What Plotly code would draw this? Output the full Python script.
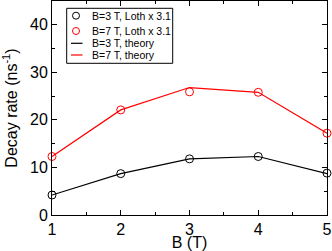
import plotly.graph_objects as go

B = [1, 2, 3, 4, 5]
exp_3T = [4.2, 8.7, 11.8, 12.3, 8.8]
exp_7T = [12.3, 22.1, 25.9, 25.8, 17.2]
theory_3T = [4.2, 8.7, 11.8, 12.3, 8.7]
theory_7T = [12.3, 22.1, 26.8, 25.8, 17.2]

legend_labels = ["B=3 T, Loth x 3.1", "B=7 T, Loth x 3.1", "B=3 T, theory", "B=7 T, theory"]
legend_colors = ["black", "red", "black", "red"]
legend_kinds = ["marker", "marker", "line", "line"]

FONT = "Liberation Sans, Arial, sans-serif"

fig = go.Figure()
fig.add_trace(go.Scatter(x=B, y=theory_3T, mode="lines", line=dict(color="black", width=1.2), showlegend=False))
fig.add_trace(go.Scatter(x=B, y=theory_7T, mode="lines", line=dict(color="red", width=1.2), showlegend=False))
fig.add_trace(go.Scatter(x=B, y=exp_3T, mode="markers", showlegend=False, cliponaxis=False,
                         marker=dict(symbol="circle-open", size=8, color="black", line=dict(width=1))))
fig.add_trace(go.Scatter(x=B, y=exp_7T, mode="markers", showlegend=False, cliponaxis=False,
                         marker=dict(symbol="circle-open", size=8, color="red", line=dict(width=1))))

# manual legend (pixel layout converted to paper coords)
L, R, T, BOT = 52, 327, 1, 215
def px(x):
    return (x - L) / (R - L)
def py(y):
    return (BOT - y) / (BOT - T)

shapes = [dict(type="rect", xref="paper", yref="paper", x0=px(66.7), x1=px(172.7), y0=py(63.3), y1=py(8.3),
               line=dict(color="black", width=1), fillcolor="white", layer="above")]
annotations = []
rows = [15.7, 31, 43.3, 55]
for lab, col, kind, ry in zip(legend_labels, legend_colors, legend_kinds, rows):
    if kind == "marker":
        shapes.append(dict(type="circle", xref="paper", yref="paper",
                           x0=px(72.5), x1=px(79.5), y0=py(ry + 3.5), y1=py(ry - 3.5),
                           line=dict(color=col, width=1), layer="above"))
    else:
        shapes.append(dict(type="line", xref="paper", yref="paper",
                           x0=px(71), x1=px(82.5), y0=py(ry), y1=py(ry),
                           line=dict(color=col, width=1.2), layer="above"))
    annotations.append(dict(text=lab, xref="paper", yref="paper", x=px(89.5), y=py(ry),
                            xanchor="left", yanchor="middle", showarrow=False,
                            font=dict(size=10.5, color="black", family=FONT)))

fig.update_layout(
    width=332, height=251,
    margin=dict(l=52, r=5, t=1, b=36, autoexpand=False),
    paper_bgcolor="white", plot_bgcolor="white",
    font=dict(family=FONT, color="black", size=16),
    shapes=shapes, annotations=annotations,
    showlegend=False,
)
fig.update_xaxes(range=[1, 5], tickvals=[1, 2, 3, 4, 5], ticks="inside", ticklen=5, tickcolor="black",
                 showline=True, linecolor="black", linewidth=1, mirror="ticks", showgrid=False, zeroline=False,
                 automargin=False,
                 minor=dict(dtick=0.5, ticks="inside", ticklen=3, tickcolor="black", showgrid=False),
                 title=dict(text="B (T)", font=dict(size=16), standoff=0),
                 tickfont=dict(size=16))
fig.update_yaxes(range=[0, 45], tickvals=[0, 10, 20, 30, 40], ticks="inside", ticklen=5, tickcolor="black",
                 showline=True, linecolor="black", linewidth=1, mirror="ticks", showgrid=False, zeroline=False,
                 automargin=False,
                 minor=dict(dtick=5, ticks="inside", ticklen=3, tickcolor="black", showgrid=False),
                 title=dict(text="Decay rate (ns<sup>-1</sup>)", font=dict(size=16), standoff=8),
                 tickfont=dict(size=16))

fig.write_html("out.html", config={"displayModeBar": False, "staticPlot": True},
               post_script="document.body.style.margin='0';document.body.style.overflow='hidden';")
